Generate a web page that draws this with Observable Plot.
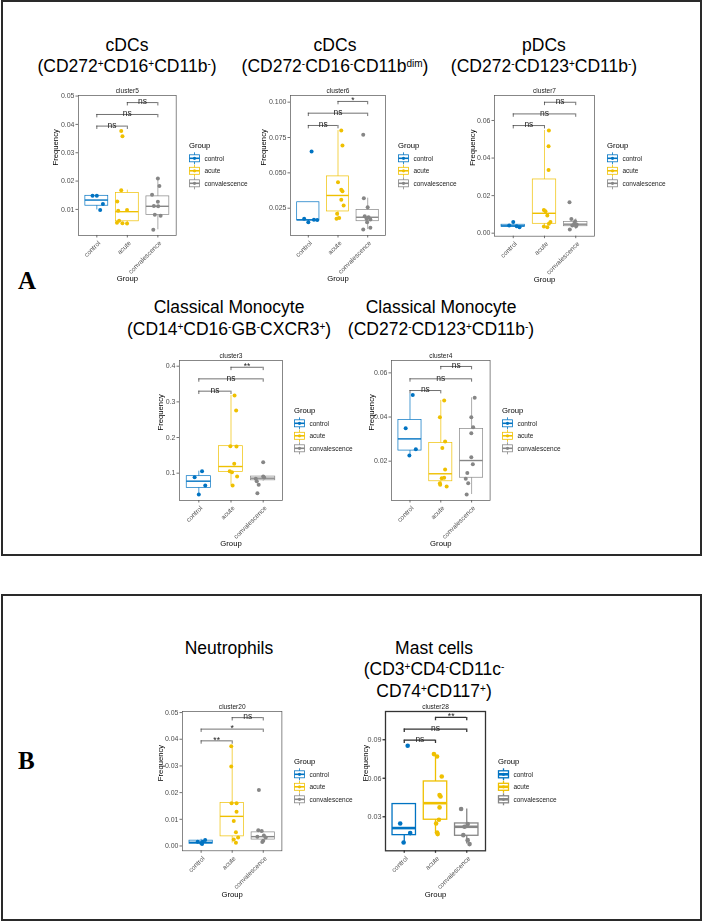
<!DOCTYPE html>
<html>
<head>
<meta charset="utf-8">
<script src="https://cdn.jsdelivr.net/npm/d3@7"></script>
<script src="https://cdn.jsdelivr.net/npm/@observablehq/plot@0.6"></script>
<style>
  body { margin: 0; background: #fff; }
  #root { position: relative; width: 703px; height: 922px; overflow: hidden; font-family: "Liberation Sans", Arial, sans-serif; background: #fff; }
  .box { position: absolute; border: 2px solid #2a2a2a; box-sizing: border-box; }
  .title { position: absolute; transform: translateX(-50%); text-align: center; font-size: 17.5px; line-height: 21.5px; white-space: nowrap; color: #000; }
  .title sup { font-size: 10px; vertical-align: 5px; line-height: 0; }
  .letter { position: absolute; font-family: "Liberation Serif", "Times New Roman", serif; font-weight: bold; font-size: 25px; line-height: 25px; }
  .abs { position: absolute; will-change: transform; }
  svg text { -webkit-font-smoothing: antialiased; }
</style>
</head>
<body>
<div id="root"></div>
<script>
const groups = ["control", "acute", "convalescence"];

// ---- cluster5 ----
const c5_values = [
  [0.0148, 0.0148, 0.0119, 0.0098],
  [0.0377, 0.0358, 0.0168, 0.0128, 0.0098, 0.0095, 0.0060, 0.0053, 0.0051, 0.0050],
  [0.0209, 0.0183, 0.0152, 0.0127, 0.0112, 0.0111, 0.0081, 0.0078, 0.0028]
];
const c5_jitter = [
  [-0.14, 0.0, 0.2, 0.11],
  [-0.2, -0.16, -0.2, -0.33, -0.01, -0.3, -0.27, -0.34, -0.16, -0.01],
  [0.0, 0.05, -0.19, 0.0, -0.13, 0.01, -0.1, 0.09, -0.15]
];
const c5_box = [[0.0113, 0.0133, 0.0148, 0.0098, 0.0148], [0.0058, 0.0092, 0.0158, 0.0048, 0.0168], [0.0080, 0.0111, 0.0146, 0.0028, 0.0209]];
const c5_brackets = [[0, 1, 0.0394, "ns"], [0, 2, 0.0435, "ns"], [1, 2, 0.0477, "ns"]];
const c5_ticks = [0.01, 0.02, 0.03, 0.04, 0.05];

// ---- cluster6 ----
const c6_values = [
  [0.0651, 0.0175, 0.0151, 0.0168, 0.0166],
  [0.0799, 0.0693, 0.0434, 0.038, 0.037, 0.031, 0.027, 0.021, 0.018, 0.0175],
  [0.0769, 0.0321, 0.0257, 0.0193, 0.0186, 0.0175, 0.0170, 0.0151, 0.0111, 0.0099]
];
const c6_jitter = [
  [0.11, -0.14, 0.0, 0.19, 0.3],
  [0.11, 0.15, 0.0, 0.11, 0.15, 0.11, 0.19, -0.03, 0.04, -0.05],
  [-0.15, -0.13, 0.0, -0.1, 0.03, -0.04, 0.09, -0.02, 0.09, -0.15]
];
const c6_box = [[0.0163, 0.0168, 0.0292, 0.0151, 0.0292], [0.0227, 0.0340, 0.0475, 0.0175, 0.0799], [0.0158, 0.0186, 0.0238, 0.0099, 0.0321]];
const c6_brackets = [[0, 1, 0.0835, "ns"], [0, 2, 0.0922, "ns"], [1, 2, 0.1005, "*"]];
const c6_ticks = [0.025, 0.05, 0.075, 0.1];

// ---- cluster7 ----
const c7_values = [
  [0.0059, 0.0041, 0.0037, 0.0032],
  [0.0547, 0.0463, 0.0337, 0.0124, 0.0117, 0.0094, 0.0059, 0.0050, 0.0035, 0.0032],
  [0.0165, 0.0076, 0.0064, 0.0050, 0.0046, 0.0041, 0.0037, 0.0020]
];
const c7_jitter = [
  [0.0, -0.13, 0.11, 0.2],
  [0.14, 0.13, 0.13, -0.02, 0.03, 0.09, 0.19, 0.14, -0.02, 0.09],
  [-0.2, -0.14, -0.02, -0.05, 0.03, -0.11, 0.01, -0.19]
];
const c7_box = [[0.0034, 0.0039, 0.0045, 0.0032, 0.0059], [0.0050, 0.0106, 0.0286, 0.0032, 0.0547], [0.0037, 0.0048, 0.0059, 0.0020, 0.0076]];
const c7_brackets = [[0, 1, 0.0573, "ns"], [0, 2, 0.0635, "ns"], [1, 2, 0.0697, "ns"]];
const c7_ticks = [0, 0.02, 0.04, 0.06];

// ---- cluster3 ----
const c3_values = [
  [0.1056, 0.0888, 0.0654, 0.0402],
  [0.3178, 0.2757, 0.1757, 0.1748, 0.1262, 0.1056, 0.1028, 0.0907, 0.0654],
  [0.1308, 0.0907, 0.0878, 0.0841, 0.0776, 0.0673, 0.0439]
];
const c3_jitter = [
  [0.1, -0.13, 0.2, 0.0],
  [0.11, 0.16, -0.02, 0.17, 0.1, -0.04, 0.03, 0.19, 0.05],
  [0.0, 0.0, 0.03, -0.23, -0.2, -0.14, -0.18]
];
const c3_box = [[0.0589, 0.0776, 0.0916, 0.0402, 0.1056], [0.1037, 0.1187, 0.1757, 0.0654, 0.3178], [0.0800, 0.0860, 0.0905, 0.0776, 0.0907]];
const c3_brackets = [[0, 1, 0.33, "ns"], [0, 2, 0.3645, "ns"], [1, 2, 0.397, "**"]];
const c3_ticks = [0.1, 0.2, 0.3, 0.4];

// ---- cluster4 ----
const c4_values = [
  [0.0500, 0.0349, 0.0254, 0.0226],
  [0.0475, 0.0399, 0.0289, 0.0260, 0.0162, 0.0123, 0.0125, 0.0100, 0.0093, 0.0085],
  [0.0487, 0.0399, 0.0354, 0.0327, 0.0218, 0.0186, 0.0147, 0.0120, 0.0100, 0.0049]
];
const c4_jitter = [
  [0.09, -0.14, 0.19, -0.02],
  [0.11, -0.03, 0.14, 0.05, 0.14, 0.03, 0.11, -0.03, -0.02, 0.19],
  [0.1, -0.01, 0.05, -0.01, -0.01, 0.04, -0.14, -0.19, -0.11, -0.16]
];
const c4_box = [[0.0248, 0.0301, 0.0387, 0.0226, 0.0505], [0.0109, 0.0143, 0.0283, 0.0085, 0.0475], [0.0125, 0.0203, 0.0346, 0.0049, 0.0487]];
const c4_brackets = [[0, 1, 0.052, "ns"], [0, 2, 0.0573, "ns"], [1, 2, 0.0629, "ns"]];
const c4_ticks = [0.02, 0.04, 0.06];

// ---- cluster20 ----
const c20_values = [
  [0.0016, 0.0011, 0.0022, 0.0016, 0.0007],
  [0.0374, 0.0298, 0.0160, 0.0160, 0.0128, 0.0094, 0.0051, 0.0024, 0.0032, 0.0012],
  [0.0210, 0.0059, 0.0056, 0.0035, 0.0039, 0.0032, 0.0020, 0.0015]
];
const c20_jitter = [
  [-0.11, 0.0, 0.13, 0.05, 0.03],
  [-0.03, -0.03, -0.02, 0.14, 0.14, 0.05, 0.12, 0.05, 0.19, 0.12],
  [-0.14, -0.16, -0.05, -0.19, 0.02, 0.08, 0.0, -0.03]
];
const c20_box = [[0.00075, 0.00137, 0.0020, 0.0005, 0.0025], [0.0036, 0.0111, 0.0161, 0.0011, 0.0374], [0.0024, 0.0035, 0.0051, 0.0014, 0.0054]];
const c20_brackets = [[0, 1, 0.0394, "**"], [0, 2, 0.0438, "*"], [1, 2, 0.0481, "ns"]];
const c20_ticks = [0, 0.01, 0.02, 0.03, 0.04, 0.05];

// ---- cluster28 ----
const c28_values = [
  [0.0853, 0.0248, 0.0173, 0.0100],
  [0.0788, 0.0770, 0.0614, 0.0469, 0.0458, 0.0373, 0.0277, 0.0248, 0.0178, 0.0165],
  [0.0360, 0.0243, 0.0222, 0.0157, 0.0118, 0.0087]
];
const c28_jitter = [
  [0.11, -0.13, 0.19, -0.02],
  [-0.05, 0.05, 0.2, 0.13, 0.16, 0.13, 0.11, 0.02, 0.05, 0.07],
  [-0.18, 0.03, -0.07, -0.11, 0.03, 0.09]
];
const c28_box = [[0.0157, 0.0212, 0.0399, 0.0100, 0.0399], [0.0277, 0.0406, 0.0575, 0.0165, 0.0788], [0.0152, 0.0222, 0.0248, 0.0087, 0.0360]];
const c28_brackets = [[0, 1, 0.0897, "ns"], [0, 2, 0.0983, "ns"], [1, 2, 0.1074, "**"]];
const c28_ticks = [0.03, 0.06, 0.09];

// ---------- layout & style ----------
const FONT = "'Liberation Sans', Arial, sans-serif";
const COLORS = ["#0073C2", "#EFC000", "#868686"];

const panels = [
  {name: "cluster5", values: c5_values, jitter: c5_jitter, box: c5_box, brackets: c5_brackets, ticks: c5_ticks, fmt: ".2f", domain: [0.0008, 0.0502], fx: 78.3, fy: 95, fw: 97.7, fh: 140, ylabDx: -23},
  {name: "cluster6", values: c6_values, jitter: c6_jitter, box: c6_box, brackets: c6_brackets, ticks: c6_ticks, fmt: ".3f", domain: [0.0057, 0.1047], fx: 290, fy: 95, fw: 95, fh: 140, ylabDx: -27},
  {name: "cluster7", values: c7_values, jitter: c7_jitter, box: c7_box, brackets: c7_brackets, ticks: c7_ticks, fmt: ".2f", domain: [-0.0016, 0.0733], fx: 494, fy: 95, fw: 100, fh: 140.7, ylabDx: -22},
  {name: "cluster3", values: c3_values, jitter: c3_jitter, box: c3_box, brackets: c3_brackets, ticks: c3_ticks, fmt: ".1f", domain: [0.0234, 0.416], fx: 178.7, fy: 360, fw: 103, fh: 140, ylabDx: -19},
  {name: "cluster4", values: c4_values, jitter: c4_jitter, box: c4_box, brackets: c4_brackets, ticks: c4_ticks, fmt: ".2f", domain: [0.0022, 0.0656], fx: 390.7, fy: 360, fw: 98.6, fh: 140, ylabDx: -20},
  {name: "cluster20", values: c20_values, jitter: c20_jitter, box: c20_box, brackets: c20_brackets, ticks: c20_ticks, fmt: ".2f", domain: [-0.0018, 0.0504], fx: 182.3, fy: 710.7, fw: 99.4, fh: 139.3, ylabDx: -21.5},
  {name: "cluster28", values: c28_values, jitter: c28_jitter, box: c28_box, brackets: c28_brackets, ticks: c28_ticks, fmt: ".2f", domain: [0.0035, 0.112], fx: 385, fy: 710.7, fw: 100, fh: 139.3, ylabDx: -20, bold: true}
];

const titles = [
  {x: 127, y: 34.5, html: "cDCs<br>(CD272<sup>+</sup>CD16<sup>+</sup>CD11b<sup>-</sup>)"},
  {x: 335, y: 34.5, html: "cDCs<br>(CD272<sup>-</sup>CD16<sup>-</sup>CD11b<sup>dim</sup>)"},
  {x: 544, y: 34.5, html: "pDCs<br>(CD272<sup>-</sup>CD123<sup>+</sup>CD11b<sup>-</sup>)"},
  {x: 229, y: 297, html: "Classical Monocyte<br>(CD14<sup>+</sup>CD16<sup>-</sup>GB<sup>-</sup>CXCR3<sup>+</sup>)"},
  {x: 441, y: 297, html: "Classical Monocyte<br>(CD272<sup>-</sup>CD123<sup>+</sup>CD11b<sup>-</sup>)"},
  {x: 229, y: 637.5, html: "Neutrophils"},
  {x: 434, y: 637.5, html: "Mast cells<br>(CD3<sup>+</sup>CD4<sup>-</sup>CD11c<sup>-</sup><br>CD74<sup>+</sup>CD117<sup>+</sup>)"}
];

const root = document.getElementById("root");

function addDiv(cls, css, html) {
  const d = document.createElement("div");
  d.className = cls;
  Object.assign(d.style, css);
  if (html != null) d.innerHTML = html;
  root.appendChild(d);
  return d;
}

addDiv("box", {left: "1px", top: "0px", width: "701px", height: "556px"});
addDiv("box", {left: "1px", top: "594px", width: "701px", height: "327px"});
addDiv("letter", {left: "18px", top: "268px"}, "A");
addDiv("letter", {left: "18px", top: "748px"}, "B");

titles.forEach(t => addDiv("title", {left: t.x + "px", top: t.y + "px"}, t.html));

function drawPanel(p) {
  const ML = 46, MR = 4, MT = 16, MB = 56;
  const sw = p.bold ? 1.3 : 0.7;
  const pts = [];
  p.values.forEach((arr, g) => arr.forEach((v, i) => pts.push({g, x: g + p.jitter[g][i], y: v, c: COLORS[g]})));
  const boxes = p.box.map((b, g) => ({g, q1: b[0], med: b[1], q3: b[2], lo: b[3], hi: b[4], c: COLORS[g]}));
  const br = p.brackets.map(([a, b, y, lab]) => ({a, b, y, lab, m: (a + b) / 2}));
  const tip = (p.domain[1] - p.domain[0]) * 0.024;
  const tips = br.flatMap(d => [{x: d.a, y: d.y}, {x: d.b, y: d.y}]);
  const fmt = d3.format(p.fmt);
  const hw = 0.375;

  const chart = Plot.plot({
    width: p.fw + ML + MR,
    height: p.fh + MT + MB,
    marginLeft: ML, marginRight: MR, marginTop: MT, marginBottom: MB,
    style: {fontFamily: FONT, fontSize: "7px", color: "#4d4d4d", background: "transparent", overflow: "visible"},
    x: {type: "linear", domain: [-0.6, 2.6]},
    y: {domain: p.domain},
    color: {type: "identity"},
    marks: [
      Plot.axisY({ticks: p.ticks, tickFormat: fmt, tickSize: 2.5, tickPadding: 1.5, label: null, fontSize: p.bold ? 7.2 : 7, stroke: "#333", strokeWidth: sw, fill: "#4d4d4d"}),
      Plot.axisX({ticks: [0, 1, 2], tickFormat: () => "", tickSize: 2.5, label: null, stroke: "#333", strokeWidth: sw}),
      Plot.text(groups.map((g, i) => ({i, g})), {x: "i", frameAnchor: "bottom", text: "g", rotate: -45, textAnchor: "end", lineAnchor: "middle", dx: 2.5, dy: 6.5, fontSize: 6.6, fill: "#4d4d4d"}),
      Plot.frame({stroke: p.bold ? "#333" : "#555", strokeWidth: sw}),
      Plot.ruleX(boxes, {x: "g", y1: "q3", y2: "hi", stroke: "c", strokeWidth: sw}),
      Plot.ruleX(boxes, {x: "g", y1: "lo", y2: "q1", stroke: "c", strokeWidth: sw}),
      Plot.rect(boxes, {x1: d => d.g - hw, x2: d => d.g + hw, y1: "q1", y2: "q3", fill: "none", stroke: "c", strokeWidth: sw}),
      Plot.ruleY(boxes, {y: "med", x1: d => d.g - hw, x2: d => d.g + hw, stroke: "c", strokeWidth: sw * 2}),
      Plot.dot(pts, {x: "x", y: "y", r: p.bold ? 2.3 : 2.0, fill: "c", stroke: "none"}),
      Plot.ruleY(br, {y: "y", x1: "a", x2: "b", stroke: "#333", strokeWidth: sw}),
      Plot.ruleX(tips, {x: "x", y1: "y", y2: d => d.y - tip, stroke: "#333", strokeWidth: sw}),
      Plot.text(br, {x: "m", y: "y", text: "lab", lineAnchor: "bottom", dy: 1.7, fontSize: 8.5, fill: "#222"}),
      Plot.text([p.name], {frameAnchor: "top", text: d => d, lineAnchor: "bottom", dy: -2.5, fontSize: 6.6, fill: "#1a1a1a"}),
      Plot.text(["Frequency"], {frameAnchor: "left", text: d => d, rotate: -90, lineAnchor: "middle", dx: p.ylabDx, fontSize: 7.7, fill: "#000"}),
      Plot.text(["Group"], {frameAnchor: "bottom", text: d => d, lineAnchor: "middle", dy: 43.5, fontSize: 7.7, fill: "#000"})
    ]
  });
  const wrap = addDiv("abs", {left: (p.fx - ML) + "px", top: (p.fy - MT) + "px"});
  wrap.appendChild(chart);

  // legend
  const lx = p.fx + p.fw + 12.5;
  const ly = p.fy + 50;
  const lwrap = addDiv("abs", {left: lx + "px", top: (ly - 6) + "px"});
  const svg = d3.create("svg").attr("width", 80).attr("height", 50).style("overflow", "visible");
  svg.append("text").attr("x", 0).attr("y", 6).attr("dy", "0.35em")
    .attr("font-family", FONT).attr("font-size", 7.7).attr("fill", "#000").text("Group");
  groups.forEach((g, i) => {
    const cy = 6 + 13.3 + i * 12.5;
    const k = svg.append("g").attr("transform", `translate(0,${cy})`);
    const c = COLORS[i];
    const kw = p.bold ? 1.3 : 0.8;
    k.append("line").attr("x1", 5.5).attr("x2", 5.5).attr("y1", -6).attr("y2", 6).attr("stroke", c).attr("stroke-width", kw);
    k.append("rect").attr("x", 0.5).attr("y", -3.5).attr("width", 10).attr("height", 7).attr("fill", "#fff").attr("stroke", c).attr("stroke-width", kw);
    k.append("line").attr("x1", 0.5).attr("x2", 10.5).attr("y1", 0).attr("y2", 0).attr("stroke", c).attr("stroke-width", kw * 2);
    k.append("circle").attr("cx", 5.5).attr("cy", 0).attr("r", 1.6).attr("fill", c);
    k.append("text").attr("x", 15.5).attr("y", 0).attr("dy", "0.35em")
      .attr("font-family", FONT).attr("font-size", 6.5).attr("fill", "#1a1a1a").text(g);
  });
  lwrap.appendChild(svg.node());
}

panels.forEach(drawPanel);
</script>
</body>
</html>
